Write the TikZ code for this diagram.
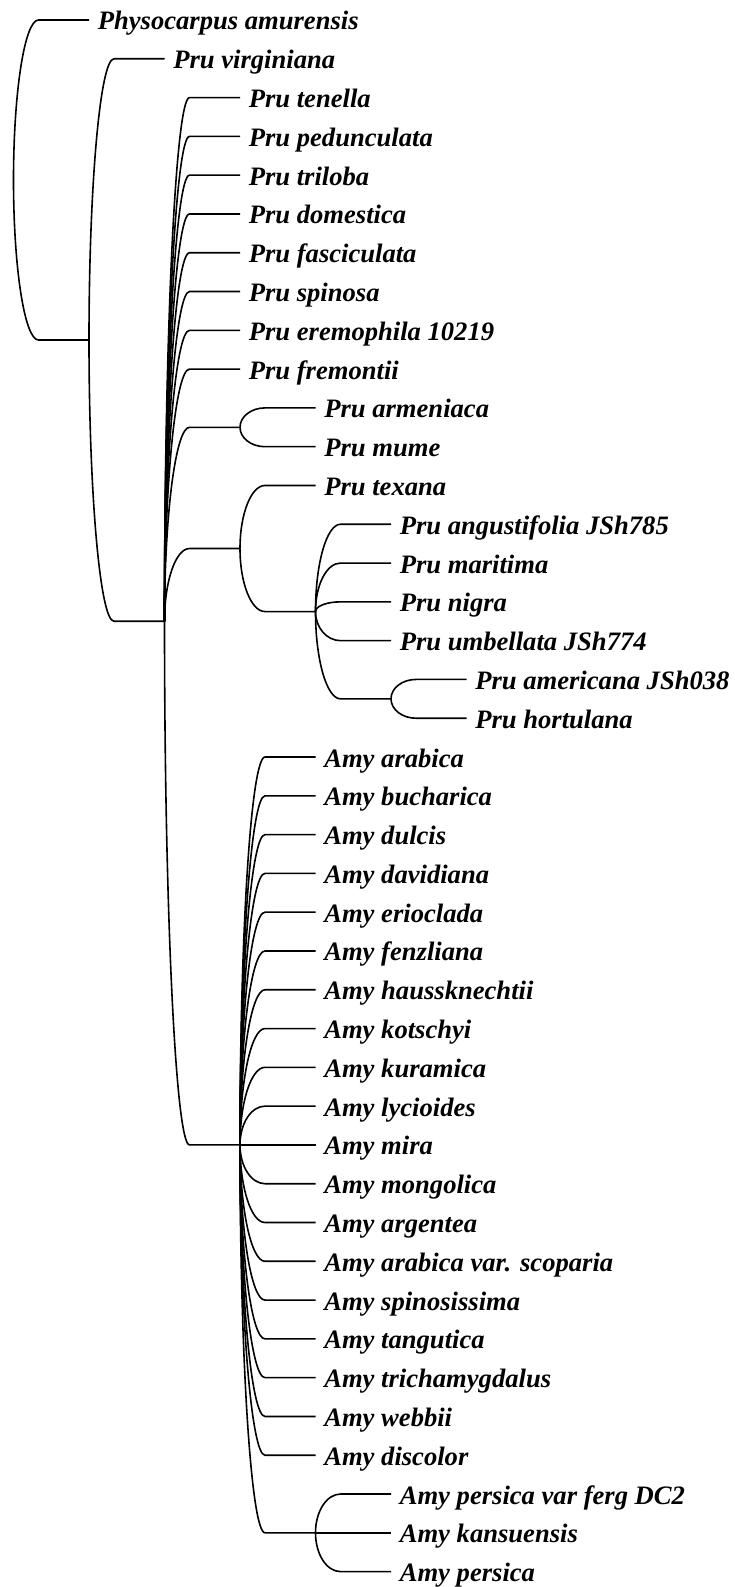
\documentclass[tikz,border=0pt]{standalone}
\usepackage{fontspec}
\setmainfont{Liberation Serif}
\usetikzlibrary{calc}
\begin{document}
\begin{tikzpicture}[x=1pt,y=-1pt,line width=1.6pt,
  leaf/.style={anchor=west,inner xsep=8pt,inner ysep=0pt,text height=20pt,text depth=0pt,
    font=\fontsize{26.6}{30}\selectfont\bfseries\itshape},
  branch/.style={to path={let \p1=(\tikztostart), \p2=(\tikztotarget) in
    .. controls ({\x1},{\y1+0.5523*(\y2-\y1)}) and ({\x1+11.2pt},{\y2}) .. ({\x1+25pt},{\y2}) -- (\tikztotarget)}}]
\useasboundingbox (0,0) rectangle (735,1587);
% internal nodes
\coordinate (R)  at (13.5,180.01);
\coordinate (V)  at (89,340.02);
\coordinate (B)  at (164.5,621.25);
\coordinate (M)  at (240,427.3);
\coordinate (T)  at (240,548.52);
\coordinate (N)  at (315.5,611.55);
\coordinate (AM) at (391,698.83);
\coordinate (A)  at (240,1144.91);
\coordinate (P)  at (315.5,1532.81);
% leaves
\node[leaf] (L1)  at (89,20)       {Physocarpus amurensis};
\node[leaf] (L2)  at (164.5,58.79) {Pru virginiana};
\node[leaf] (L3)  at (240,97.58)   {Pru tenella};
\node[leaf] (L4)  at (240,136.37)  {Pru pedunculata};
\node[leaf] (L5)  at (240,175.16)  {Pru triloba};
\node[leaf] (L6)  at (240,213.95)  {Pru domestica};
\node[leaf] (L7)  at (240,252.74)  {Pru fasciculata};
\node[leaf] (L8)  at (240,291.53)  {Pru spinosa};
\node[leaf] (L9)  at (240,330.32)  {Pru eremophila 10219};
\node[leaf] (L10) at (240,369.11)  {Pru fremontii};
\node[leaf] (L11) at (315.5,407.9)  {Pru armeniaca};
\node[leaf] (L12) at (315.5,446.69) {Pru mume};
\node[leaf] (L13) at (315.5,485.48) {Pru texana};
\node[leaf] (L14) at (391,524.27)  {Pru angustifolia JSh785};
\node[leaf] (L15) at (391,563.06)  {Pru maritima};
\node[leaf] (L16) at (391,601.85)  {Pru nigra};
\node[leaf] (L17) at (391,640.64)  {Pru umbellata JSh774};
\node[leaf] (L18) at (466.5,679.43) {Pru americana JSh038};
\node[leaf] (L19) at (466.5,718.22) {Pru hortulana};
\node[leaf] (L20) at (315.5,757.01)  {Amy arabica};
\node[leaf] (L21) at (315.5,795.8)   {Amy bucharica};
\node[leaf] (L22) at (315.5,834.59)  {Amy dulcis};
\node[leaf] (L23) at (315.5,873.38)  {Amy davidiana};
\node[leaf] (L24) at (315.5,912.17)  {Amy erioclada};
\node[leaf] (L25) at (315.5,950.96)  {Amy fenzliana};
\node[leaf] (L26) at (315.5,989.75)  {Amy haussknechtii};
\node[leaf] (L27) at (315.5,1028.54) {Amy kotschyi};
\node[leaf] (L28) at (315.5,1067.33) {Amy kuramica};
\node[leaf] (L29) at (315.5,1106.12) {Amy lycioides};
\node[leaf] (L30) at (315.5,1144.91) {Amy mira};
\node[leaf] (L31) at (315.5,1183.7)  {Amy mongolica};
\node[leaf] (L32) at (315.5,1222.49) {Amy argentea};
\node[leaf] (L33) at (315.5,1261.28) {Amy arabica var. scoparia};
\node[leaf] (L34) at (315.5,1300.07) {Amy spinosissima};
\node[leaf] (L35) at (315.5,1338.86) {Amy tangutica};
\node[leaf] (L36) at (315.5,1377.65) {Amy trichamygdalus};
\node[leaf] (L37) at (315.5,1416.44) {Amy webbii};
\node[leaf] (L38) at (315.5,1455.23) {Amy discolor};
\node[leaf] (L39) at (391,1494.02) {Amy persica var ferg DC2};
\node[leaf] (L40) at (391,1532.81) {Amy kansuensis};
\node[leaf] (L41) at (391,1571.6)  {Amy persica};
% branches
\draw[branch] (R) to (L1.west);
\draw[branch] (R) to (V);
\draw[branch] (V) to (L2.west);
\draw[branch] (V) to (B);
\foreach \i in {3,...,10} {\draw[branch] (B) to (L\i.west);}
\draw[branch] (B) to (M);
\draw[branch] (B) to (T);
\draw[branch] (B) to (A);
\draw[branch] (M) to (L11.west);
\draw[branch] (M) to (L12.west);
\draw[branch] (T) to (L13.west);
\draw[branch] (T) to (N);
\foreach \i in {14,...,17} {\draw[branch] (N) to (L\i.west);}
\draw[branch] (N) to (AM);
\draw[branch] (AM) to (L18.west);
\draw[branch] (AM) to (L19.west);
\foreach \i in {20,...,38} {\draw[branch] (A) to (L\i.west);}
\draw[branch] (A) to (P);
\foreach \i in {39,40,41} {\draw[branch] (P) to (L\i.west);}
\end{tikzpicture}
\end{document}
